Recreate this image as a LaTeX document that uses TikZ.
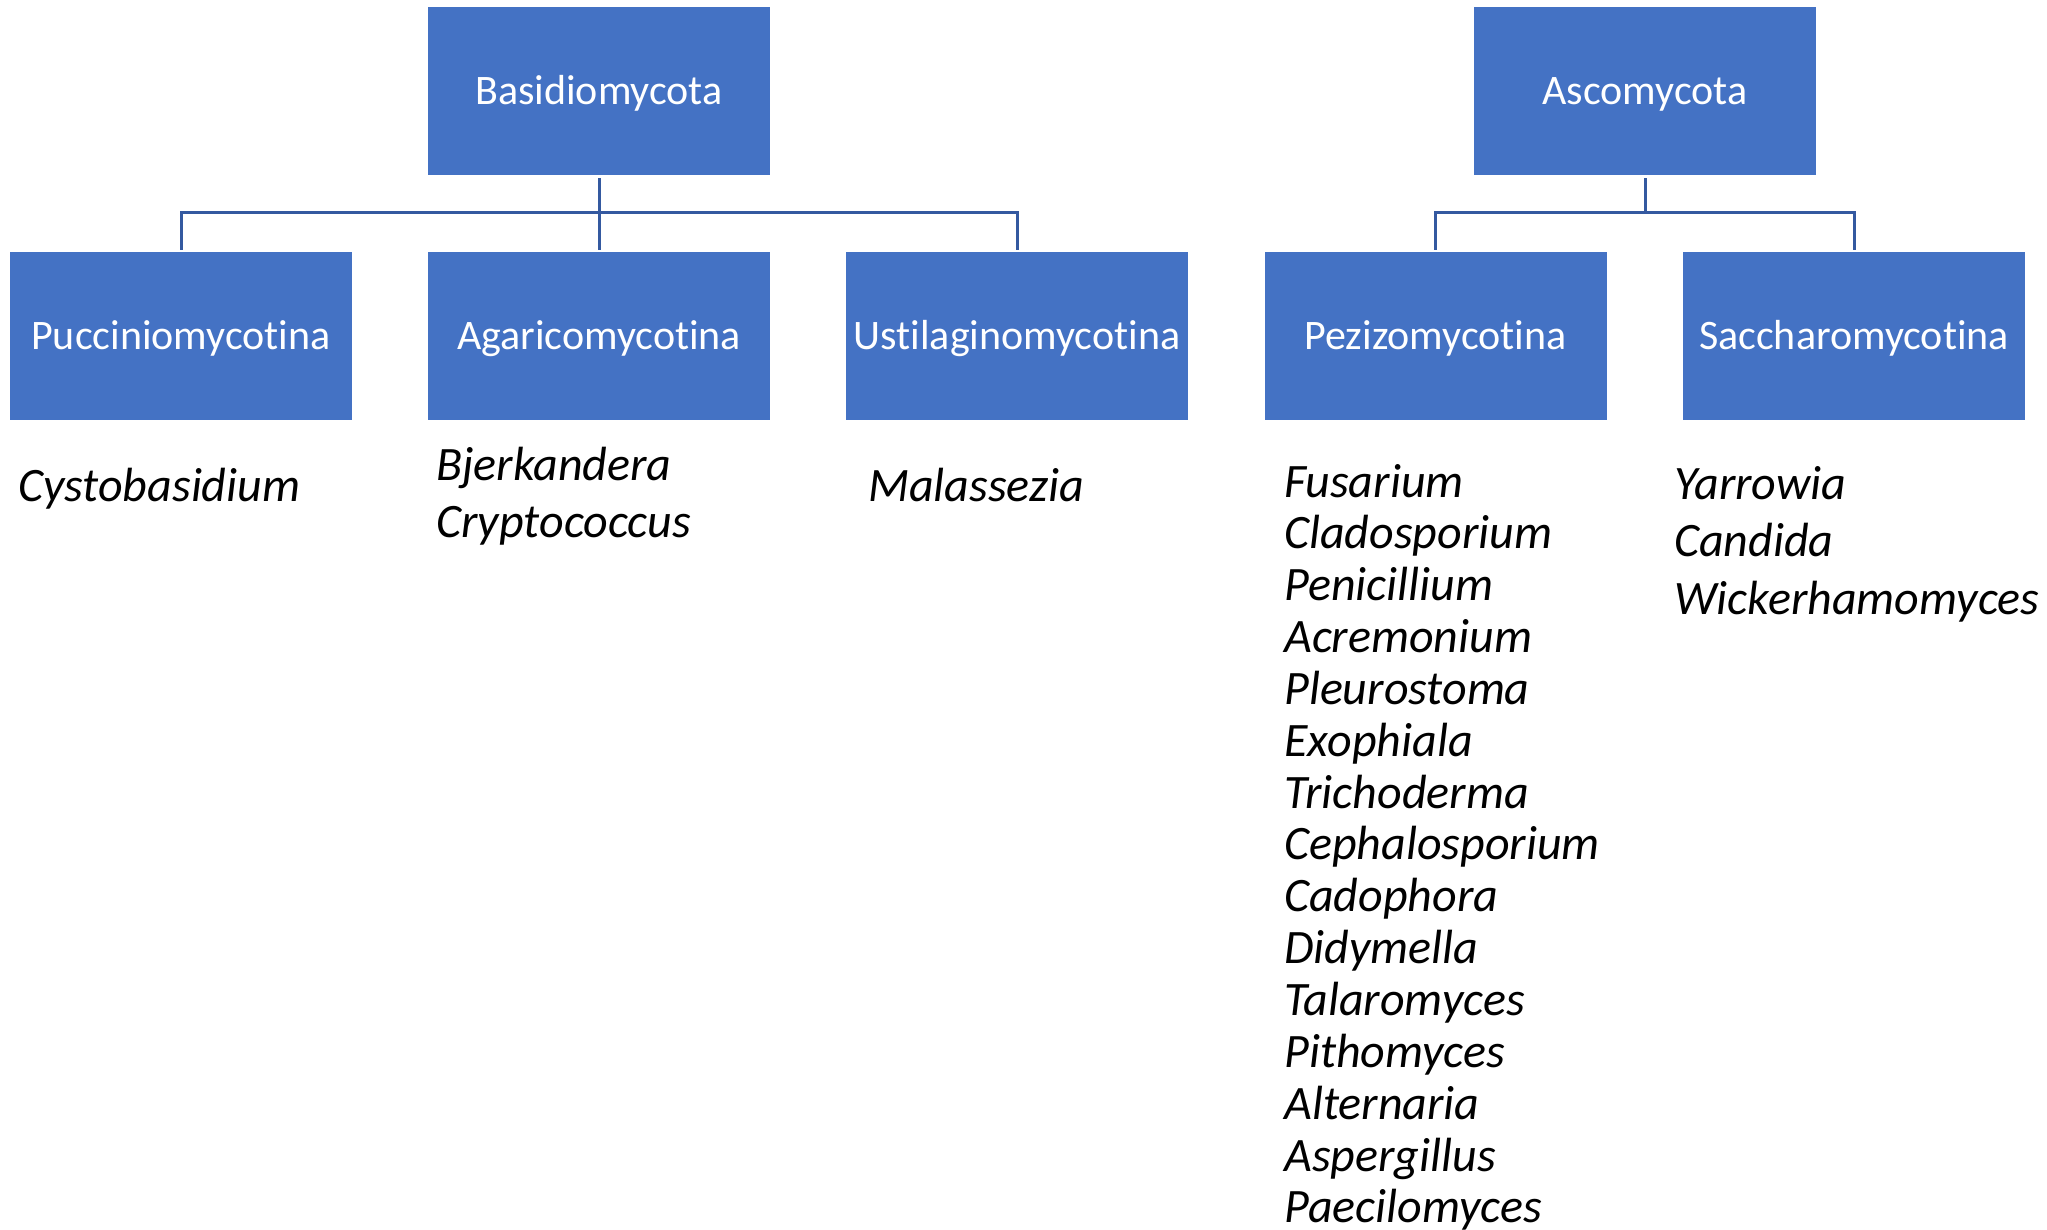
\documentclass[tikz,border=0pt]{standalone}
\usepackage{fontspec}
\setmainfont{Carlito}[Ligatures=NoCommon]
\definecolor{boxblue}{HTML}{4472C4}
\definecolor{lineblue}{RGB}{52,89,160}
\tikzset{
  taxbox/.style={draw=none, fill=boxblue, text=white, inner sep=0pt,
    minimum width=342pt, minimum height=168pt,
    text height=27pt, text depth=0pt,
    font=\fontsize{42}{50}\selectfont},
  genus/.style={anchor=base west, inner sep=0pt, text=black,
    font=\fontsize{48}{52}\selectfont\itshape},
  conn/.style={draw=lineblue, line width=3pt, shorten <=3pt, shorten >=2pt}
}
\begin{document}
\begin{tikzpicture}[x=1pt,y=-1pt]
\useasboundingbox[fill=white] (0,0) rectangle (2047,1230);
% top row
\node[taxbox] (basid) at (599,91) {Basidiomycota};
\node[taxbox] (asco) at (1645,91) {Ascomycota};
% second row
\node[taxbox] (pucc) at (181,336) {Pucciniomycotina};
\node[taxbox] (agar) at (599,336) {Agaricomycotina};
\node[taxbox] (ustil) at (1017,336) {Ustilaginomycotina};
\node[taxbox] (pezi) at (1435.5,336) {Pezizomycotina};
\node[taxbox] (sacch) at (1854,336) {Saccharomycotina};
% connectors
\coordinate (bj) at (599,213);
\coordinate (aj) at (1645,213);
\draw[conn] (basid.south) -- (agar.north);
\draw[conn, shorten <=2pt] (pucc.north) |- (bj) -| (ustil.north);
\draw[conn] (asco.south) -- (aj);
\draw[conn, shorten <=2pt] (pezi.north) |- (aj) -| (sacch.north);
% genera
\node[genus] (g1) at (18,501) {Cystobasidium};
\node[genus] (g2) at (436,480) {Bjerkandera};
\node[genus] (g3) at (436,537) {Cryptococcus};
\node[genus] (g4) at (868,501) {Malassezia};
\foreach \n [count=\i from 0] in {Fusarium,Cladosporium,Penicillium,Acremonium,Pleurostoma,Exophiala,Trichoderma,Cephalosporium,Cadophora,Didymella,Talaromyces,Pithomyces,Alternaria,Aspergillus,Paecilomyces}{
  \node[genus] (pz\i) at (1284,497+51.85*\i) {\n};
}
\node[genus] (s1) at (1674,499) {Yarrowia};
\node[genus] (s2) at (1674,556.5) {Candida};
\node[genus] (s3) at (1674,614) {Wickerhamomyces};
\end{tikzpicture}
\end{document}
